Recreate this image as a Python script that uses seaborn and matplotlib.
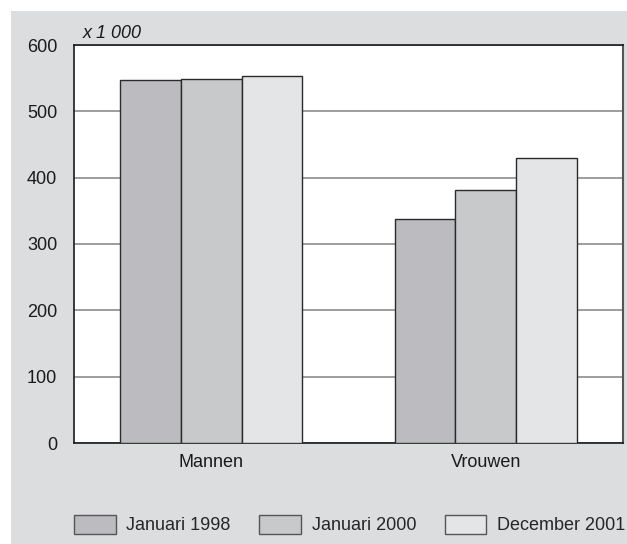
import numpy as np
import pandas as pd
import matplotlib
matplotlib.use("Agg")
import matplotlib.pyplot as plt
from matplotlib.patches import Rectangle
import seaborn as sns

### Data
categories = ["Mannen", "Vrouwen"]
periods = ["Januari 1998", "Januari 2000", "December 2001"]
jan_1998 = [547, 338]
jan_2000 = [549, 382]
dec_2001 = [553, 429]
y_ticks = [0, 100, 200, 300, 400, 500, 600]

colors = ["#bcbcc0", "#c8c9cb", "#e4e5e7"]

df = pd.DataFrame({
    "geslacht": categories * 3,
    "periode": [periods[0]] * 2 + [periods[1]] * 2 + [periods[2]] * 2,
    "aantal": jan_1998 + jan_2000 + dec_2001,
})

### Style
sns.set_style("white")
plt.rcParams["font.family"] = ["Liberation Sans", "DejaVu Sans"]
fs = 13

fig = plt.figure(figsize=(6.27, 5.44), dpi=100, facecolor="white")
# grey panel behind everything
bg = Rectangle((11 / 627, 0), 1 - 11 / 627, 1 - 11 / 544,
               transform=fig.transFigure, facecolor="#dcdddf",
               edgecolor="none", zorder=-5)
fig.add_artist(bg)

ax = fig.add_axes([74 / 627, 1 - 443 / 544, (623 - 74) / 627, (443 - 45) / 544])
ax.set_facecolor("white")

sns.barplot(data=df, x="geslacht", y="aantal", hue="periode",
            order=categories, hue_order=periods, palette=colors,
            width=0.664, edgecolor="#2a2a2a", linewidth=1.0,
            saturation=1, ax=ax, zorder=3)

ax.set_ylim(0, 600)
ax.set_xlim(-0.5, 1.5)
ax.set_yticks(y_ticks)
ax.yaxis.grid(True, color="#8c8c8c", linewidth=1.2, zorder=0)
ax.set_axisbelow(True)
ax.tick_params(axis="y", length=0, pad=12, labelsize=fs, colors="#1a1a1a")

ax.set_xticks([-0.5, 0.5, 1.5])
ax.set_xticklabels([])
ax.set_xticks([0, 1], minor=True)
ax.set_xticklabels(categories, minor=True)
ax.tick_params(axis="x", which="major", direction="out", length=5,
               width=1, color="#333333")
ax.tick_params(axis="x", which="minor", length=0, pad=8, labelsize=fs,
               colors="#1a1a1a")
ax.set_xlabel("")
ax.set_ylabel("")

for side in ["left", "top", "bottom"]:
    ax.spines[side].set_color("#1a1a1a")
    ax.spines[side].set_linewidth(1.2)
ax.spines["right"].set_color("#555555")
ax.spines["right"].set_linewidth(1.5)

fig.text(83 / 627, 1 - 33 / 544, "x 1 000", style="italic", fontsize=fs,
         va="center", ha="left", color="#1a1a1a")

handles, labels = ax.get_legend_handles_labels()
ax.get_legend().remove()
leg = fig.legend(handles, labels, loc="center left",
                 bbox_to_anchor=(74 / 627, 1 - 524.5 / 544), ncol=3,
                 frameon=False, borderpad=0, borderaxespad=0,
                 handlelength=2.3, handleheight=1.26, handletextpad=0.6,
                 columnspacing=1.58, fontsize=fs)
for h in leg.legend_handles:
    h.set_edgecolor("#555555")
    h.set_linewidth(1.0)

fig.savefig("out.png", dpi=100, facecolor=fig.get_facecolor())
